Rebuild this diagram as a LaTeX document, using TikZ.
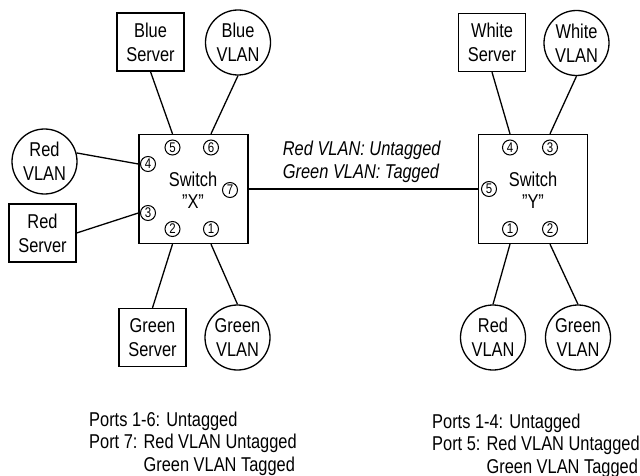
\documentclass[tikz,border=0pt]{standalone}
\usepackage{fontspec}
\setmainfont{Liberation Sans}[FakeStretch=0.82]
\begin{document}
\begin{tikzpicture}[x=1pt,y=-1pt,
  every node/.style={font=\fontsize{20}{24}\selectfont},
  srv/.style={draw, line width=1.3pt, minimum width=67pt, minimum height=58pt, inner sep=0pt, align=center},
  vlan/.style={draw, circle, line width=1.3pt, minimum size=65pt, inner sep=0pt, align=center},
  sw/.style={draw, line width=1.3pt, minimum size=109pt, inner sep=0pt},
  swlabel/.style={align=center, font=\fontsize{20}{22}\selectfont},
  port/.style={draw, circle, line width=1pt, minimum size=15pt, inner sep=0pt, font=\fontsize{14}{14}\selectfont},
  txt/.style={anchor=base west, inner sep=0pt},
  itxt/.style={anchor=base west, inner sep=0pt, font=\fontsize{20}{22}\selectfont\itshape},
  wire/.style={line width=1.3pt}]
\useasboundingbox (0,0) rectangle (640,476);

% Switch X side
\node[srv] (bs) at (150.5,42) {Blue\\Server};
\node[vlan] (bv) at (238,42.5) {Blue\\VLAN};
\node[vlan] (rv) at (44.5,161.5) {Red\\VLAN};
\node[srv] (rs) at (42.5,233) {Red\\Server};
\node[srv] (gs) at (152.5,337.5) {Green\\Server};
\node[vlan] (gv) at (237.5,337.5) {Green\\VLAN};

\node[sw] (sx) at (193.5,189) {};
\node[swlabel] (sxl) at (193,190) {Switch\\"X"};
\node[port] (x5) at (172.5,147.5) {5};
\node[port] (x6) at (211,147.5) {6};
\node[port] (x4) at (148,164) {4};
\node[port] (x7) at (230,190) {7};
\node[port] (x3) at (148,213) {3};
\node[port] (x2) at (172.5,229) {2};
\node[port] (x1) at (211,229) {1};

% Switch Y side
\node[srv] (ws) at (492,42.5) {White\\Server};
\node[vlan] (wv) at (576.5,43) {White\\VLAN};
\node[vlan] (rvy) at (493,337.5) {Red\\VLAN};
\node[vlan] (gvy) at (578,337.5) {Green\\VLAN};

\node[sw] (sy) at (533,189) {};
\node[swlabel] (syl) at (533,190) {Switch\\"Y"};
\node[port] (y4) at (510,147.5) {4};
\node[port] (y3) at (550,147.5) {3};
\node[port] (y5) at (489,189) {5};
\node[port] (y1) at (510,229) {1};
\node[port] (y2) at (550,229) {2};

% wires
\draw[wire] (bs.south) -- (x5 |- sx.north);
\draw[wire] (bv.south) -- (x6 |- sx.north);
\draw[wire] (rv.15) -- (sx.west |- x4);
\draw[wire] (rs.east) -- (sx.west |- x3);
\draw[wire] (gs.north) -- (x2 |- sx.south);
\draw[wire] (gv.north) -- (x1 |- sx.south);
\draw[wire] (sx.east) -- (sy.west);
\draw[wire] (ws.south) -- (y4 |- sy.north);
\draw[wire] (wv.south) -- (y3 |- sy.north);
\draw[wire] (rvy.north) -- (y1 |- sy.south);
\draw[wire] (gvy.north) -- (y2 |- sy.south);

% link label
\node[itxt] (l1) at (282.7,155.7) {Red VLAN: Untagged};
\node[itxt] (l2) at (282.7,178.3) {Green VLAN: Tagged};

% notes
\node[txt] (a1) at (89,426) {Ports 1-6: Untagged};
\node[txt] (a2) at (89,448.5) {Port 7: Red VLAN Untagged};
\node[txt] (a3) at (89,471) {\hphantom{Port 7: }Green VLAN Tagged};
\node[txt] (b1) at (432,428) {Ports 1-4: Untagged};
\node[txt] (b2) at (432,450.5) {Port 5: Red VLAN Untagged};
\node[txt] (b3) at (432,473) {\hphantom{Port 5: }Green VLAN Tagged};
\end{tikzpicture}
\end{document}
